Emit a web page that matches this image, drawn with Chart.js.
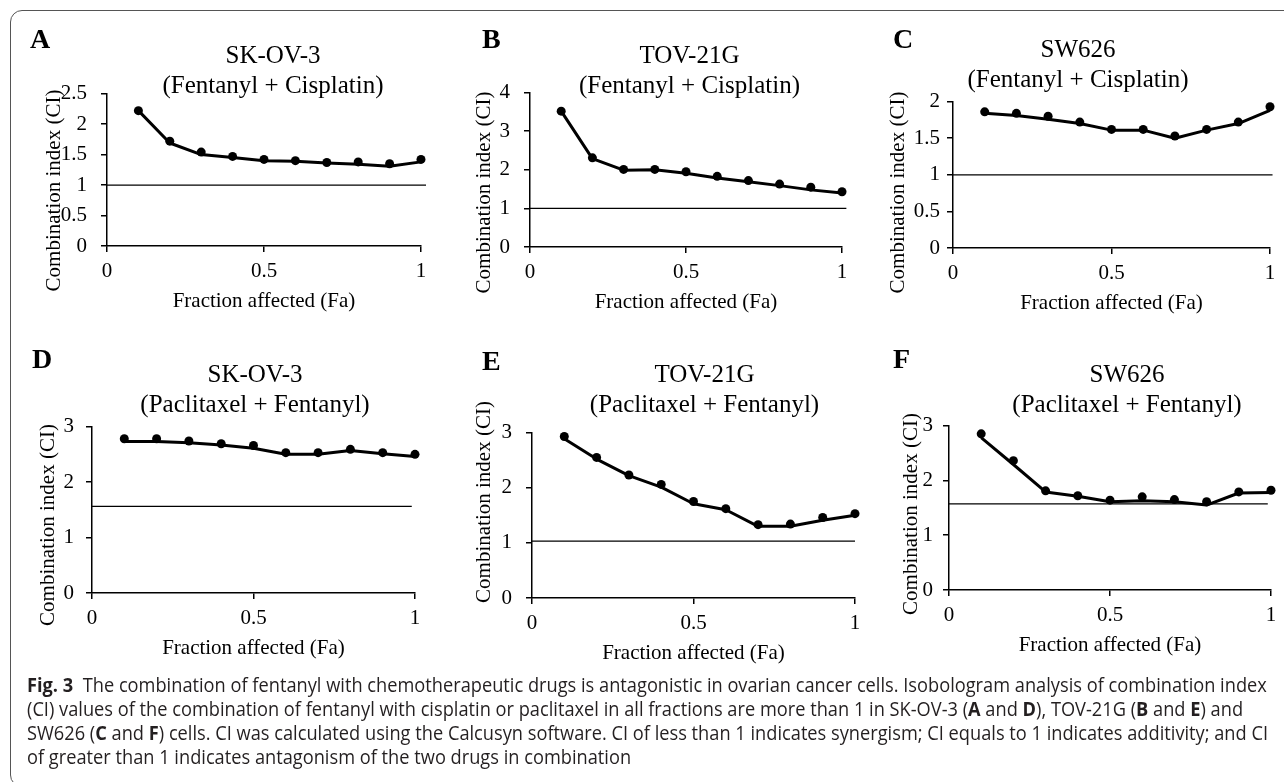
<!DOCTYPE html>
<html>
<head>
<meta charset="utf-8">
<script src="https://cdn.jsdelivr.net/npm/chart.js@4.4.1/dist/chart.umd.min.js"></script>
<style>
  html, body { margin: 0; padding: 0; background: #fff; }
  body { width: 1284px; height: 782px; overflow: hidden; position: relative; }
  #frame {
    position: absolute; left: 10px; top: 10px; width: 1300px; height: 777px;
    border: 1.5px solid #555; border-radius: 12px; box-sizing: border-box;
  }
  canvas { position: absolute; }
  #labels { position: absolute; left: 0; top: 0; }
  .serif { font-family: "Liberation Serif", "Times New Roman", serif; fill: #000; }
  .cap { font-family: "Open Sans", sans-serif; font-size: 20px; fill: #231f20; white-space: pre; }
</style>
</head>
<body>
<div id="frame"></div>
<svg id="labels" width="1284" height="782" xmlns="http://www.w3.org/2000/svg"></svg>
<script>
// fraction affected (Fa) for every measured point
const faX = [0.1, 0.2, 0.3, 0.4, 0.5, 0.6, 0.7, 0.8, 0.9, 1.0];
const faTicks = [0, 0.5, 1];

// SK-OV-3, fentanyl + cisplatin
const ciPtsA = [2.22, 1.72, 1.54, 1.47, 1.42, 1.40, 1.37, 1.38, 1.35, 1.42];
const ciFitA = [2.22, 1.69, 1.50, 1.45, 1.40, 1.39, 1.36, 1.34, 1.31, 1.38];
const ticksA = [0, 0.5, 1, 1.5, 2, 2.5];

// TOV-21G, fentanyl + cisplatin
const ciPtsB = [3.52, 2.31, 2.01, 2.01, 1.95, 1.83, 1.72, 1.63, 1.55, 1.43];
const ciFitB = [3.52, 2.29, 1.99, 2.00, 1.91, 1.79, 1.69, 1.59, 1.48, 1.40];
const ticksB = [0, 1, 2, 3, 4];

// SW626, fentanyl + cisplatin
const ciPtsC = [1.86, 1.84, 1.80, 1.72, 1.62, 1.62, 1.53, 1.62, 1.72, 1.93];
const ciFitC = [1.84, 1.81, 1.76, 1.70, 1.61, 1.61, 1.50, 1.61, 1.70, 1.88];
const ticksC = [0, 0.5, 1, 1.5, 2];

// SK-OV-3, paclitaxel + fentanyl
const ciPtsD = [2.78, 2.78, 2.74, 2.69, 2.66, 2.53, 2.53, 2.59, 2.53, 2.50];
const ciFitD = [2.73, 2.73, 2.71, 2.67, 2.61, 2.50, 2.50, 2.57, 2.51, 2.46];
const ticksD = [0, 1, 2, 3];

// TOV-21G, paclitaxel + fentanyl
const ciPtsE = [2.93, 2.55, 2.23, 2.06, 1.75, 1.62, 1.33, 1.34, 1.46, 1.53];
const ciFitE = [2.89, 2.52, 2.22, 2.01, 1.71, 1.60, 1.30, 1.30, 1.41, 1.50];
const ticksE = [0, 1, 2, 3];

// SW626, paclitaxel + fentanyl
const ciPtsF = [2.85, 2.36, 1.81, 1.72, 1.64, 1.70, 1.65, 1.61, 1.79, 1.82];
const ciFitF = [2.78, 2.29, 1.79, 1.71, 1.61, 1.63, 1.61, 1.55, 1.77, 1.78];
const ticksF = [0, 1, 2, 3];

// horizontal CI reference line per panel: [level, x start, x end]
const refA = [1, 0, 1.016];
const refB = [1, 0, 1.014];
const refC = [1, 0, 1.008];
const refD = [1.56, 0, 0.99];
const refE = [1.03, 0, 1.0];
const refF = [1.57, 0, 0.99];

const cellLines = ['SK-OV-3', 'TOV-21G', 'SW626', 'SK-OV-3', 'TOV-21G', 'SW626'];
const comboLines = ['(Fentanyl + Cisplatin)', '(Fentanyl + Cisplatin)', '(Fentanyl + Cisplatin)',
                    '(Paclitaxel + Fentanyl)', '(Paclitaxel + Fentanyl)', '(Paclitaxel + Fentanyl)'];
const panelLetters = ['A', 'B', 'C', 'D', 'E', 'F'];
const yTitle = 'Combination index (CI)';
const xTitle = 'Fraction affected (Fa)';

// plot box of each panel on the page and where its texts sit
const layout = [
  { x0: 107, x1: 421, top: 83, bottom: 246, tickPad: 14, letter: [30, 48], tx: 273, ty: [63, 93], yt: [53, 190.5] },
  { x0: 530, x1: 842, top: 82, bottom: 247, tickPad: 14, letter: [482, 48], tx: 689.5, ty: [63, 93], yt: [483, 192.5] },
  { x0: 953, x1: 1270, top: 98, bottom: 248, tickPad: 7, letter: [893, 48], tx: 1078, ty: [57, 87], yt: [897, 192.5] },
  { x0: 92, x1: 415, top: 418, bottom: 593, tickPad: 12, letter: [32, 368], tx: 255, ty: [382, 412], yt: [47, 525] },
  { x0: 532, x1: 855, top: 422, bottom: 598, tickPad: 14, letter: [482, 370], tx: 704.5, ty: [382, 412], yt: [483, 502] },
  { x0: 949, x1: 1271, top: 419, bottom: 590, tickPad: 10, letter: [893, 368], tx: 1127, ty: [382, 412], yt: [910, 514] }
];

const series = [
  [ciPtsA, ciFitA, ticksA, refA],
  [ciPtsB, ciFitB, ticksB, refB],
  [ciPtsC, ciFitC, ticksC, refC],
  [ciPtsD, ciFitD, ticksD, refD],
  [ciPtsE, ciFitE, ticksE, refE],
  [ciPtsF, ciFitF, ticksF, refF]
];

Chart.defaults.font.family = '"Liberation Serif", "Times New Roman", serif';
Chart.defaults.color = '#000';

const svg = document.getElementById('labels');
const NS = 'http://www.w3.org/2000/svg';

function addText(str, x, y, attrs) {
  const t = document.createElementNS(NS, 'text');
  t.setAttribute('x', x);
  t.setAttribute('y', y);
  for (const k in attrs) t.setAttribute(k, attrs[k]);
  t.textContent = str;
  svg.appendChild(t);
  return t;
}

function pairs(xs, ys) {
  return xs.map((x, i) => ({ x: x, y: ys[i] }));
}

function drawPanel(i) {
  const L = layout[i];
  const [pts, fit, yTicks, ref] = series[i];
  const wy = 60, padT = 16, padR = 18, hx = 44;

  const cvs = document.createElement('canvas');
  cvs.width = (L.x1 - L.x0) + wy + padR;
  cvs.height = (L.bottom - L.top) + padT + hx;
  cvs.style.left = (L.x0 - wy) + 'px';
  cvs.style.top = (L.top - padT) + 'px';
  document.body.insertBefore(cvs, svg);

  const axisGrid = { drawOnChartArea: false, drawTicks: true, tickLength: 6, color: '#000', lineWidth: 1.5 };
  const axisBorder = { display: true, color: '#000', width: 1.5 };

  new Chart(cvs, {
    type: 'scatter',
    data: {
      datasets: [
        { data: pairs(faX, pts), showLine: false, pointRadius: 4.5, pointBackgroundColor: '#000',
          pointBorderWidth: 0, clip: false },
        { data: pairs(faX, fit), showLine: true, borderColor: '#000', borderWidth: 3, pointRadius: 0,
          tension: 0, borderJoinStyle: 'round', clip: false },
        { data: [{ x: ref[1], y: ref[0] }, { x: ref[2], y: ref[0] }], showLine: true, borderColor: '#000',
          borderWidth: 1.3, pointRadius: 0, clip: false }
      ]
    },
    options: {
      responsive: false,
      animation: false,
      devicePixelRatio: 1,
      events: [],
      layout: { padding: { top: padT, right: padR, left: 0, bottom: 0 } },
      plugins: { legend: { display: false }, tooltip: { enabled: false } },
      scales: {
        x: {
          type: 'linear', min: 0, max: 1,
          afterBuildTicks: s => { s.ticks = faTicks.map(v => ({ value: v })); },
          afterFit: s => { s.height = hx; },
          grid: axisGrid, border: axisBorder,
          ticks: { padding: 7, maxRotation: 0, font: { size: 21 }, callback: v => String(v) }
        },
        y: {
          type: 'linear', min: 0, max: yTicks[yTicks.length - 1],
          afterBuildTicks: s => { s.ticks = yTicks.map(v => ({ value: v })); },
          afterFit: s => { s.width = wy; },
          grid: axisGrid, border: axisBorder,
          ticks: { padding: L.tickPad, font: { size: 21 }, callback: v => String(v) }
        }
      }
    }
  });

  // panel letter, two-line title and axis titles
  addText(panelLetters[i], L.letter[0], L.letter[1], { class: 'serif', 'font-size': 28, 'font-weight': 'bold' });
  addText(cellLines[i], L.tx, L.ty[0], { class: 'serif', 'font-size': 25, 'text-anchor': 'middle' });
  addText(comboLines[i], L.tx, L.ty[1], { class: 'serif', 'font-size': 25, 'text-anchor': 'middle' });
  addText(xTitle, (L.x0 + L.x1) / 2, L.bottom + 61, { class: 'serif', 'font-size': 21, 'text-anchor': 'middle' });
  addText(yTitle, 0, 0, {
    class: 'serif', 'font-size': 21, 'text-anchor': 'middle', 'dominant-baseline': 'central',
    transform: 'translate(' + L.yt[0] + ',' + L.yt[1] + ') rotate(-90)'
  });
}

for (let i = 0; i < 6; i++) drawPanel(i);

// figure legend, one entry per printed line; bold parts marked with *
const captionLines = [
  ['*Fig. 3*', '  The combination of fentanyl with chemotherapeutic drugs is antagonistic in ovarian cancer cells. Isobologram analysis of combination index'],
  ['(CI) values of the combination of fentanyl with cisplatin or paclitaxel in all fractions are more than 1 in SK-OV-3 (', '*A*', ' and ', '*D*', '), TOV-21G (', '*B*', ' and ', '*E*', ') and'],
  ['SW626 (', '*C*', ' and ', '*F*', ') cells. CI was calculated using the Calcusyn software. CI of less than 1 indicates synergism; CI equals to 1 indicates additivity; and CI'],
  ['of greater than 1 indicates antagonism of the two drugs in combination']
];
const captionBase = [692, 716, 740, 764];

// the legend face is a condensed sans: squeeze Open Sans by one common factor so the first line fills the column
const meas = document.createElement('canvas').getContext('2d');
function lineWidth(parts) {
  let w = 0;
  parts.forEach(p => {
    const bold = p.startsWith('*');
    meas.font = (bold ? 'bold ' : '') + '20px "Open Sans"';
    w += meas.measureText(bold ? p.slice(1, -1) : p).width;
  });
  return w;
}
const squeeze = 1241 / lineWidth(captionLines[0]);

captionLines.forEach((parts, i) => {
  const t = document.createElementNS(NS, 'text');
  t.setAttribute('x', 0);
  t.setAttribute('y', 0);
  t.setAttribute('class', 'cap');
  t.setAttribute('transform', 'translate(27,' + captionBase[i] + ') scale(' + squeeze + ',1)');
  parts.forEach(p => {
    const s = document.createElementNS(NS, 'tspan');
    if (p.startsWith('*')) {
      s.setAttribute('font-weight', 'bold');
      s.textContent = p.slice(1, -1);
    } else {
      s.textContent = p;
    }
    t.appendChild(s);
  });
  svg.appendChild(t);
});
</script>
</body>
</html>
